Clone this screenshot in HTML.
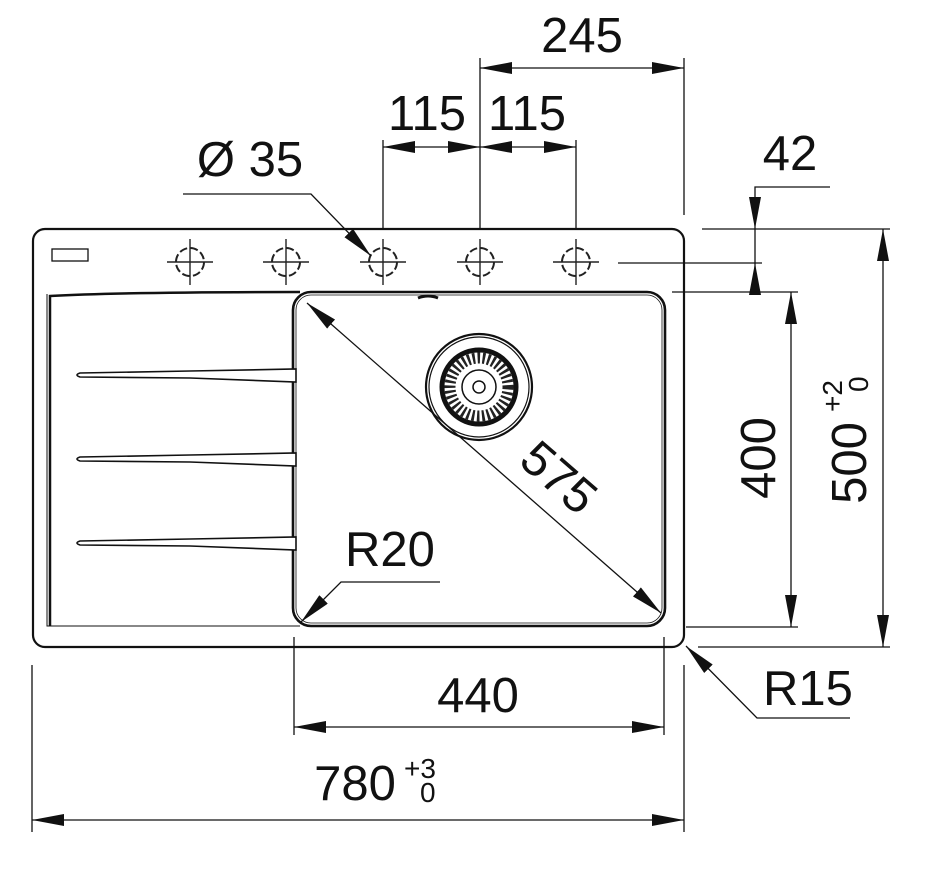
<!DOCTYPE html>
<html><head><meta charset="utf-8"><style>
html,body{margin:0;padding:0;background:#fff}
svg{display:block}
text{font-family:"Liberation Sans",Arial,sans-serif;fill:#111}
</style></head><body>
<svg width="952" height="884" viewBox="0 0 952 884" xmlns="http://www.w3.org/2000/svg">
<defs>
<marker id="a" viewBox="0 0 32 12" refX="32" refY="6" markerWidth="32" markerHeight="12" markerUnits="userSpaceOnUse" orient="auto-start-reverse">
<path d="M0,0 L32,6 L0,12 Z" fill="#111"/></marker>
<g id="tap"><circle r="14" fill="none" stroke="#222" stroke-width="2" stroke-dasharray="8 3"/><line x1="-23" y1="0" x2="23" y2="0" stroke="#222" stroke-width="1.4"/><line x1="0" y1="-23" x2="0" y2="23" stroke="#222" stroke-width="1.4"/></g>
</defs>
<g fill="none" stroke="#111">
<rect x="33" y="229" width="651" height="418" rx="12" stroke-width="2.2"/>
<rect x="52" y="249" width="36" height="12" stroke-width="1.3"/>
<path d="M50,626 L50,296 Q120,292 300,292" stroke-width="2.5"/>
<path d="M47,294 L47,626 L300,626" stroke-width="1"/>
<rect x="293" y="292" width="372" height="334" rx="18" stroke-width="2.6"/>
<rect x="296" y="295" width="366" height="328" rx="15" stroke-width="0.8"/>
<path d="M418,298 Q428,294 438,298" stroke-width="3"/>
<g stroke-width="1.6" fill="#fff">
<path d="M296,369 L296,382 L190,378 L80,377 Q74,375 80,373 L190,371 Z"/>
<path d="M296,453 L296,466 L190,462 L80,461 Q74,459 80,457 L190,455 Z"/>
<path d="M296,537 L296,550 L190,546 L80,545 Q74,543 80,541 L190,539 Z"/>
</g>
<circle cx="479" cy="387" r="53" stroke-width="2.2"/>
<circle cx="479" cy="387" r="50" stroke-width="1.2"/>
<circle cx="479" cy="387" r="37" stroke-width="5"/>
<circle cx="479" cy="387" r="29" stroke-width="11" stroke-dasharray="2.5 2.5" stroke="#222"/>
<circle cx="479" cy="387" r="17" stroke-width="1.5" fill="#fff"/>
<circle cx="479" cy="387" r="6" stroke-width="1.5"/>
</g>
<use href="#tap" x="190" y="262"/><use href="#tap" x="286" y="262"/><use href="#tap" x="383" y="262"/><use href="#tap" x="480" y="262"/><use href="#tap" x="576" y="262"/>
<g stroke="#111" stroke-width="1.3" fill="none">
<line x1="480" y1="58" x2="480" y2="228"/><line x1="684" y1="58" x2="684" y2="215"/>
<line x1="480" y1="68" x2="684" y2="68" marker-start="url(#a)" marker-end="url(#a)"/>
<line x1="383" y1="140" x2="383" y2="228"/><line x1="576" y1="140" x2="576" y2="228"/>
<line x1="383" y1="147" x2="480" y2="147" marker-start="url(#a)" marker-end="url(#a)"/>
<line x1="480" y1="147" x2="576" y2="147" marker-start="url(#a)" marker-end="url(#a)"/>
<polyline points="183,194 311,194 371,256" marker-end="url(#a)"/>
<polyline points="830,187 755,187 755,229" marker-end="url(#a)"/>
<line x1="755" y1="294" x2="755" y2="263" marker-end="url(#a)"/>
<line x1="755" y1="229" x2="755" y2="263"/>
<line x1="702" y1="229" x2="890" y2="229"/>
<line x1="618" y1="263" x2="762" y2="263"/>
<line x1="672" y1="292" x2="798" y2="292"/>
<line x1="791" y1="292" x2="791" y2="627" marker-start="url(#a)" marker-end="url(#a)"/>
<line x1="686" y1="627" x2="798" y2="627"/>
<line x1="883" y1="229" x2="883" y2="647" marker-start="url(#a)" marker-end="url(#a)"/>
<line x1="698" y1="647" x2="890" y2="647"/>
<line x1="307" y1="303" x2="661" y2="613" marker-start="url(#a)" marker-end="url(#a)"/>
<polyline points="440,582 341,582 301,622" marker-end="url(#a)"/>
<polyline points="850,718 757,718 686,646" marker-end="url(#a)"/>
<line x1="294" y1="637" x2="294" y2="735"/><line x1="664" y1="637" x2="664" y2="735"/>
<line x1="294" y1="727" x2="664" y2="727" marker-start="url(#a)" marker-end="url(#a)"/>
<line x1="32" y1="665" x2="32" y2="832"/><line x1="684" y1="665" x2="684" y2="832"/>
<line x1="32" y1="820" x2="684" y2="820" marker-start="url(#a)" marker-end="url(#a)"/>
</g>
<g font-size="49">
<text x="582" y="52" text-anchor="middle">245</text>
<text x="427" y="130" text-anchor="middle">115</text>
<text x="527" y="130" text-anchor="middle">115</text>
<text x="250" y="176" text-anchor="middle">Ø 35</text>
<text x="790" y="170" text-anchor="middle">42</text>
<text x="390" y="566" text-anchor="middle">R20</text>
<text x="808" y="705" text-anchor="middle">R15</text>
<text x="478" y="712" text-anchor="middle">440</text>
<text x="355" y="800" text-anchor="middle">780</text>
<text transform="translate(775,458) rotate(-90)" text-anchor="middle">400</text>
<text transform="translate(866,463) rotate(-90)" text-anchor="middle">500</text>
<text transform="translate(548,490) rotate(41)" text-anchor="middle">575</text>
</g>
<g font-size="28">
<text x="404" y="778">+3</text>
<text x="420" y="802">0</text>
<text transform="translate(842,412) rotate(-90)">+2</text>
<text transform="translate(868,392) rotate(-90)">0</text>
</g>
</svg>
</body></html>
